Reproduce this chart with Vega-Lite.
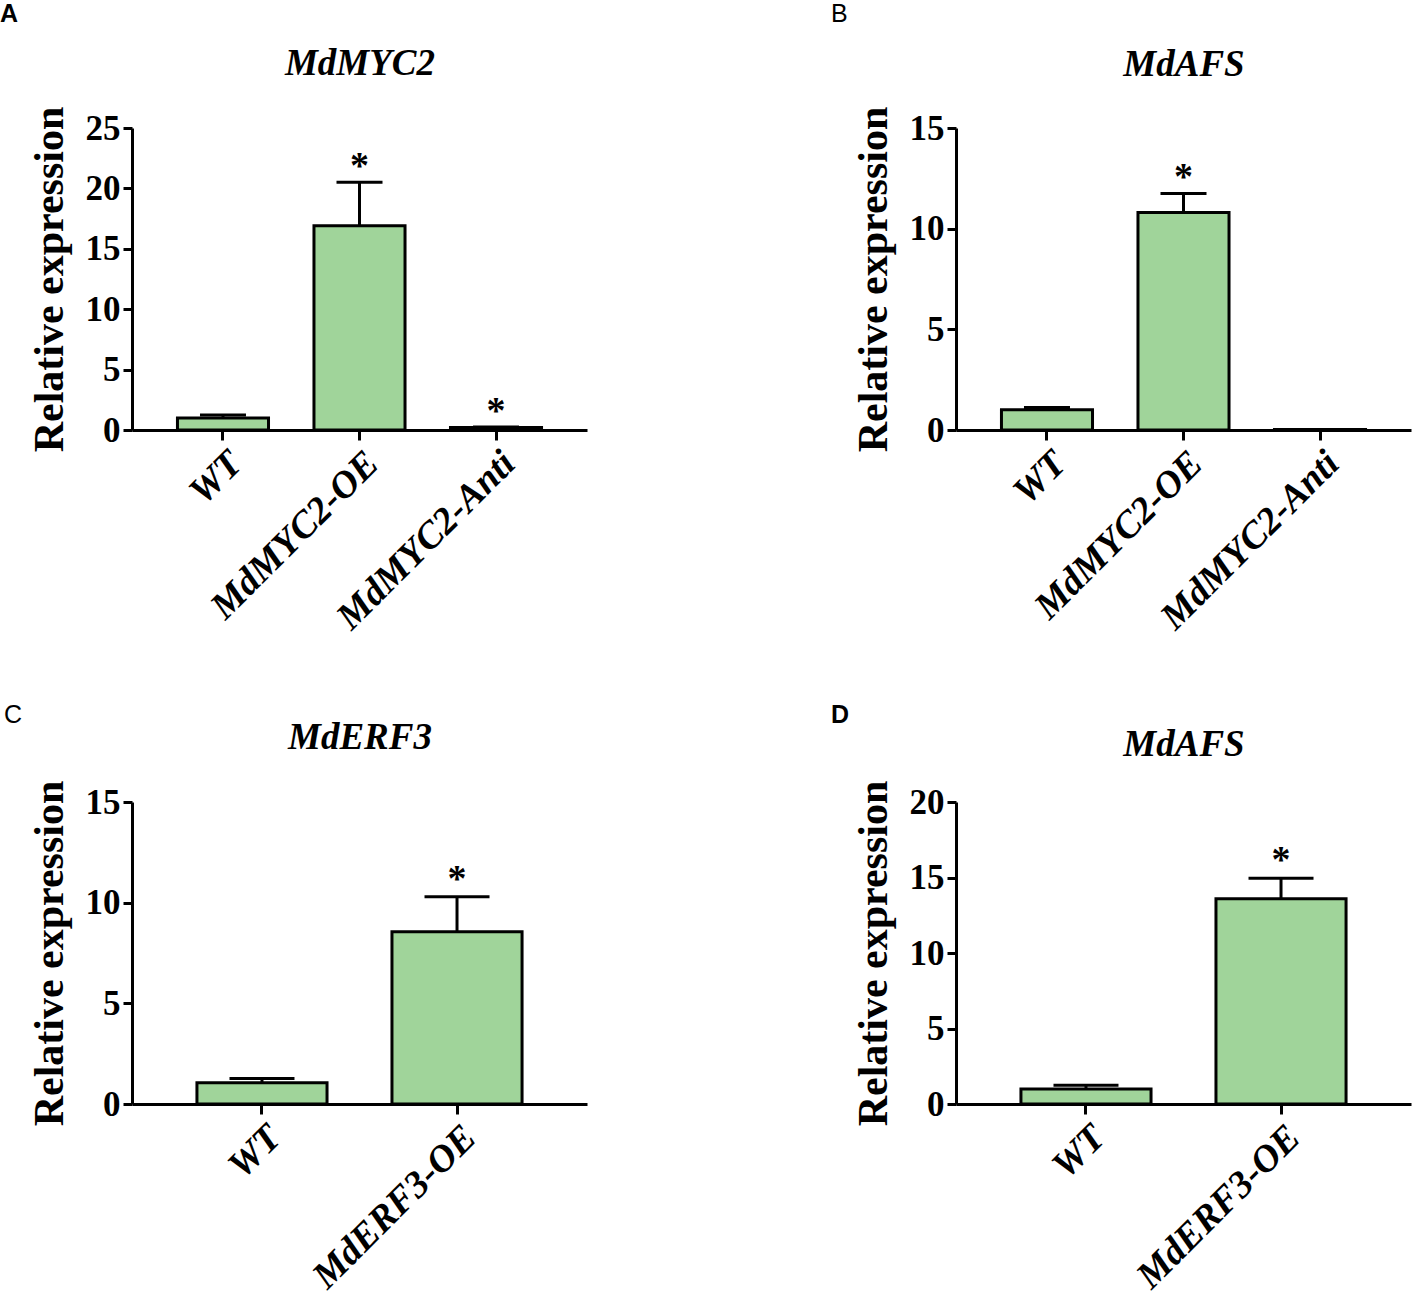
{
  "$schema": "https://vega.github.io/schema/vega-lite/v6.json",
  "padding": {"left": 0, "top": 2, "right": 2, "bottom": 2},
  "columns": 2,
  "spacing": {"column": 369, "row": 372},
  "bounds": "flush",
  "align": "all",
  "concat": [
    {
      "width": 455, "height": 302,
      "title": {"text": "A", "anchor": "start", "frame": "group", "dx": -132, "offset": 17, "fontSize": 25, "font": "Liberation Sans", "fontWeight": "bold", "color": "black"},
      "data": {"values": [
        {"group": "WT", "value": 1.0, "upper": 1.24, "sig": ""},
        {"group": "MdMYC2-OE", "value": 16.9, "upper": 20.5, "sig": "*"},
        {"group": "MdMYC2-Anti", "value": 0.2, "upper": 0.25, "sig": "*"}
      ]},
      "resolve": {"axis": {"x": "independent"}},
      "layer": [
        {"mark": {"type": "rule", "strokeWidth": 3, "color": "black"},
         "encoding": {
           "x": {"field": "group", "type": "nominal", "sort": null, "scale": {"paddingInner": 0.333, "paddingOuter": 0.333},
                 "axis": {"orient": "top", "title": "MdMYC2", "labels": false, "ticks": false, "domain": false, "titlePadding": 46}},
           "y": {"field": "value", "type": "quantitative", "scale": {"domain": [0, 25]}, "axis": {"values": [0, 5, 10, 15, 20, 25], "title": "Relative expression"}},
           "y2": {"field": "upper"}}},
        {"mark": {"type": "tick", "size": 46, "thickness": 3, "color": "black", "opacity": 1},
         "encoding": {
           "x": {"field": "group", "type": "nominal", "sort": null, "axis": null},
           "y": {"field": "upper", "type": "quantitative", "scale": {"domain": [0, 25]}, "axis": {"values": [0, 5, 10, 15, 20, 25], "title": "Relative expression"}}}},
        {"mark": {"type": "bar", "fill": "#a0d49a", "stroke": "black", "strokeWidth": 3},
         "encoding": {
           "x": {"field": "group", "type": "nominal", "sort": null, "axis": {"orient": "bottom", "title": null}},
           "y": {"field": "value", "type": "quantitative", "scale": {"domain": [0, 25]}, "axis": {"values": [0, 5, 10, 15, 20, 25], "title": "Relative expression"}}}},
        {"mark": {"type": "text", "font": "Liberation Serif", "fontWeight": "bold", "fontSize": 38, "baseline": "alphabetic", "dy": -4, "color": "black"},
         "encoding": {
           "x": {"field": "group", "type": "nominal", "sort": null, "axis": null},
           "y": {"field": "upper", "type": "quantitative", "scale": {"domain": [0, 25]}, "axis": {"values": [0, 5, 10, 15, 20, 25], "title": "Relative expression"}},
           "text": {"field": "sig"}}}
      ]
    },
    {
      "width": 455, "height": 302,
      "title": {"text": "B", "anchor": "start", "frame": "group", "dx": -125, "offset": 18, "fontSize": 25, "font": "Liberation Sans", "fontWeight": "normal", "color": "black"},
      "data": {"values": [
        {"group": "WT", "value": 1.0, "upper": 1.12, "sig": ""},
        {"group": "MdMYC2-OE", "value": 10.8, "upper": 11.75, "sig": "*"},
        {"group": "MdMYC2-Anti", "value": 0.02, "upper": 0.03, "sig": ""}
      ]},
      "resolve": {"axis": {"x": "independent"}},
      "layer": [
        {"mark": {"type": "rule", "strokeWidth": 3, "color": "black"},
         "encoding": {
           "x": {"field": "group", "type": "nominal", "sort": null, "scale": {"paddingInner": 0.333, "paddingOuter": 0.333},
                 "axis": {"orient": "top", "title": "MdAFS", "labels": false, "ticks": false, "domain": false, "titlePadding": 45}},
           "y": {"field": "value", "type": "quantitative", "scale": {"domain": [0, 15]}, "axis": {"values": [0, 5, 10, 15], "title": "Relative expression"}},
           "y2": {"field": "upper"}}},
        {"mark": {"type": "tick", "size": 46, "thickness": 3, "color": "black", "opacity": 1},
         "encoding": {
           "x": {"field": "group", "type": "nominal", "sort": null, "axis": null},
           "y": {"field": "upper", "type": "quantitative", "scale": {"domain": [0, 15]}, "axis": {"values": [0, 5, 10, 15], "title": "Relative expression"}}}},
        {"mark": {"type": "bar", "fill": "#a0d49a", "stroke": "black", "strokeWidth": 3},
         "encoding": {
           "x": {"field": "group", "type": "nominal", "sort": null, "axis": {"orient": "bottom", "title": null}},
           "y": {"field": "value", "type": "quantitative", "scale": {"domain": [0, 15]}, "axis": {"values": [0, 5, 10, 15], "title": "Relative expression"}}}},
        {"mark": {"type": "text", "font": "Liberation Serif", "fontWeight": "bold", "fontSize": 38, "baseline": "alphabetic", "dy": -4, "color": "black"},
         "encoding": {
           "x": {"field": "group", "type": "nominal", "sort": null, "axis": null},
           "y": {"field": "upper", "type": "quantitative", "scale": {"domain": [0, 15]}, "axis": {"values": [0, 5, 10, 15], "title": "Relative expression"}},
           "text": {"field": "sig"}}}
      ]
    },
    {
      "width": 455, "height": 302,
      "title": {"text": "C", "anchor": "start", "frame": "group", "dx": -128, "offset": -10, "fontSize": 25, "font": "Liberation Sans", "fontWeight": "normal", "color": "black"},
      "data": {"values": [
        {"group": "WT", "value": 1.05, "upper": 1.27, "sig": ""},
        {"group": "MdERF3-OE", "value": 8.55, "upper": 10.3, "sig": "*"}
      ]},
      "resolve": {"axis": {"x": "independent"}},
      "layer": [
        {"mark": {"type": "rule", "strokeWidth": 3, "color": "black"},
         "encoding": {
           "x": {"field": "group", "type": "nominal", "sort": null, "scale": {"paddingInner": 0.333, "paddingOuter": 0.333},
                 "axis": {"orient": "top", "title": "MdERF3", "labels": false, "ticks": false, "domain": false, "titlePadding": 46}},
           "y": {"field": "value", "type": "quantitative", "scale": {"domain": [0, 15]}, "axis": {"values": [0, 5, 10, 15], "title": "Relative expression"}},
           "y2": {"field": "upper"}}},
        {"mark": {"type": "tick", "size": 65, "thickness": 3, "color": "black", "opacity": 1},
         "encoding": {
           "x": {"field": "group", "type": "nominal", "sort": null, "axis": null},
           "y": {"field": "upper", "type": "quantitative", "scale": {"domain": [0, 15]}, "axis": {"values": [0, 5, 10, 15], "title": "Relative expression"}}}},
        {"mark": {"type": "bar", "fill": "#a0d49a", "stroke": "black", "strokeWidth": 3},
         "encoding": {
           "x": {"field": "group", "type": "nominal", "sort": null, "axis": {"orient": "bottom", "title": null}},
           "y": {"field": "value", "type": "quantitative", "scale": {"domain": [0, 15]}, "axis": {"values": [0, 5, 10, 15], "title": "Relative expression"}}}},
        {"mark": {"type": "text", "font": "Liberation Serif", "fontWeight": "bold", "fontSize": 38, "baseline": "alphabetic", "dy": -6, "color": "black"},
         "encoding": {
           "x": {"field": "group", "type": "nominal", "sort": null, "axis": null},
           "y": {"field": "upper", "type": "quantitative", "scale": {"domain": [0, 15]}, "axis": {"values": [0, 5, 10, 15], "title": "Relative expression"}},
           "text": {"field": "sig"}}}
      ]
    },
    {
      "width": 455, "height": 302,
      "title": {"text": "D", "anchor": "start", "frame": "group", "dx": -125, "offset": -3, "fontSize": 25, "font": "Liberation Sans", "fontWeight": "bold", "color": "black"},
      "data": {"values": [
        {"group": "WT", "value": 1.0, "upper": 1.25, "sig": ""},
        {"group": "MdERF3-OE", "value": 13.6, "upper": 14.95, "sig": "*"}
      ]},
      "resolve": {"axis": {"x": "independent"}},
      "layer": [
        {"mark": {"type": "rule", "strokeWidth": 3, "color": "black"},
         "encoding": {
           "x": {"field": "group", "type": "nominal", "sort": null, "scale": {"paddingInner": 0.333, "paddingOuter": 0.333},
                 "axis": {"orient": "top", "title": "MdAFS", "labels": false, "ticks": false, "domain": false, "titlePadding": 39}},
           "y": {"field": "value", "type": "quantitative", "scale": {"domain": [0, 20]}, "axis": {"values": [0, 5, 10, 15, 20], "title": "Relative expression"}},
           "y2": {"field": "upper"}}},
        {"mark": {"type": "tick", "size": 65, "thickness": 3, "color": "black", "opacity": 1},
         "encoding": {
           "x": {"field": "group", "type": "nominal", "sort": null, "axis": null},
           "y": {"field": "upper", "type": "quantitative", "scale": {"domain": [0, 20]}, "axis": {"values": [0, 5, 10, 15, 20], "title": "Relative expression"}}}},
        {"mark": {"type": "bar", "fill": "#a0d49a", "stroke": "black", "strokeWidth": 3},
         "encoding": {
           "x": {"field": "group", "type": "nominal", "sort": null, "axis": {"orient": "bottom", "title": null}},
           "y": {"field": "value", "type": "quantitative", "scale": {"domain": [0, 20]}, "axis": {"values": [0, 5, 10, 15, 20], "title": "Relative expression"}}}},
        {"mark": {"type": "text", "font": "Liberation Serif", "fontWeight": "bold", "fontSize": 38, "baseline": "alphabetic", "dy": -6, "color": "black"},
         "encoding": {
           "x": {"field": "group", "type": "nominal", "sort": null, "axis": null},
           "y": {"field": "upper", "type": "quantitative", "scale": {"domain": [0, 20]}, "axis": {"values": [0, 5, 10, 15, 20], "title": "Relative expression"}},
           "text": {"field": "sig"}}}
      ]
    }
  ],
  "config": {
    "background": "white",
    "view": {"stroke": null},
    "axis": {"grid": false},
    "axisY": {
      "labelFont": "Liberation Serif", "labelFontWeight": "bold", "labelFontSize": 35, "labelColor": "black", "labelPadding": 3, "labelFlush": false,
      "tickSize": 9, "tickWidth": 3, "tickColor": "black", "domainWidth": 3, "domainColor": "black",
      "titleFont": "Liberation Serif", "titleFontWeight": "bold", "titleFontSize": 42, "titleColor": "black", "titlePadding": 14
    },
    "axisTop": {
      "titleFont": "Liberation Serif", "titleFontStyle": "italic", "titleFontWeight": "bold", "titleFontSize": 37, "titleColor": "black"
    },
    "axisBottom": {
      "labelAngle": -45, "labelFont": "Liberation Serif", "labelFontStyle": "italic", "labelFontWeight": "bold", "labelFontSize": 38, "labelColor": "black", "labelPadding": 4, "labelLimit": 400,
      "tickSize": 10, "tickWidth": 3, "tickColor": "black", "domainWidth": 3, "domainColor": "black"
    }
  }
}
